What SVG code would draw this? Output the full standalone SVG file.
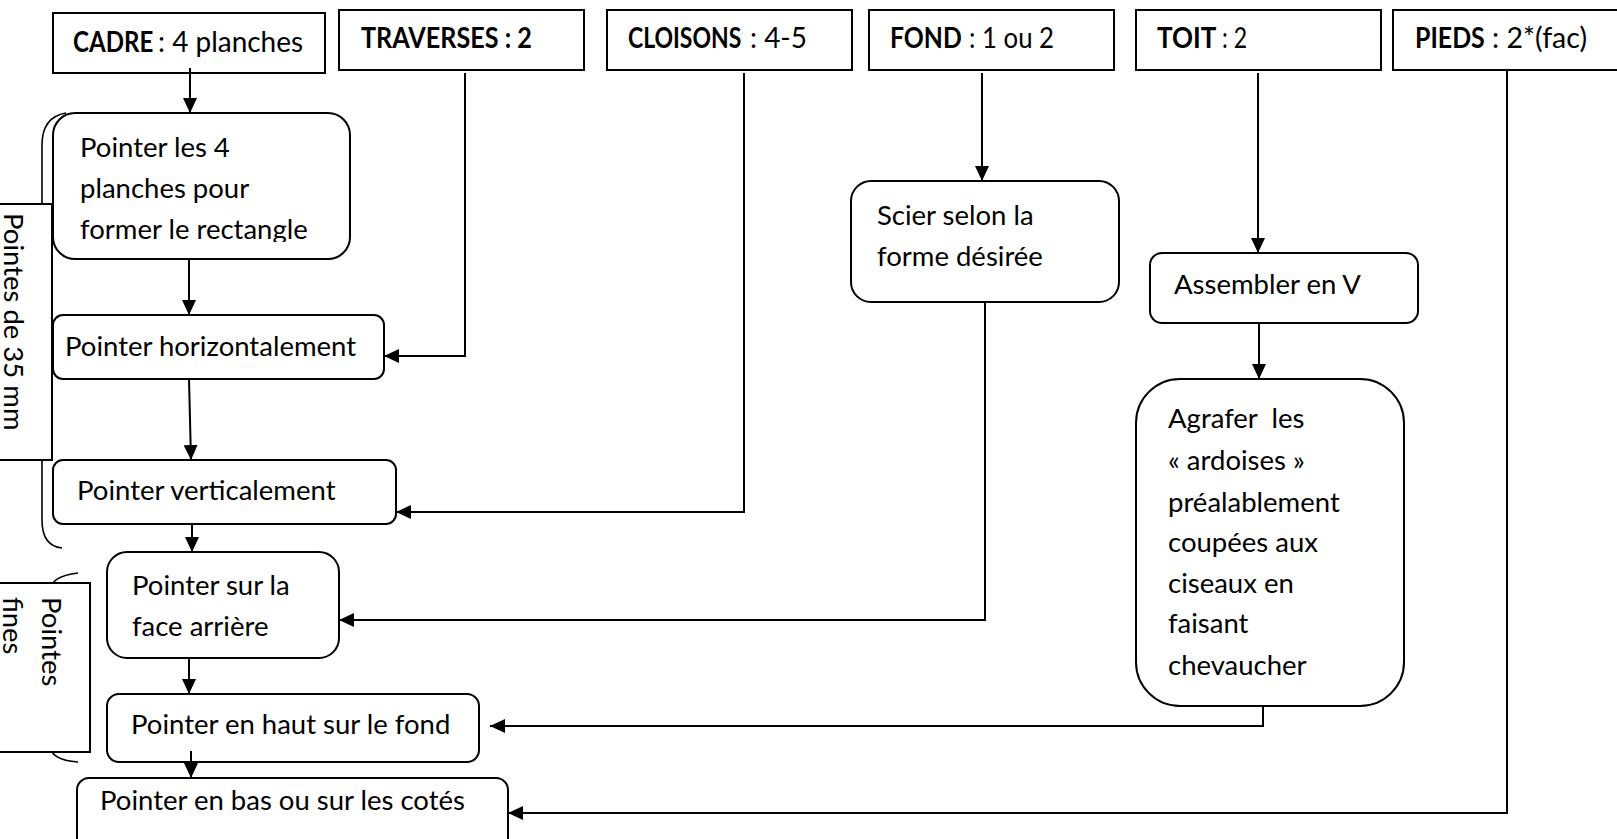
<svg xmlns="http://www.w3.org/2000/svg" width="1617" height="839" viewBox="0 0 1617 839">
<style>
.box{fill:#fff;stroke:#000;stroke-width:2}
.t{font-family:Lato,"Liberation Sans",sans-serif;font-size:27.5px;fill:#000}
.h{font-family:Lato,"Liberation Sans",sans-serif;font-size:28px;fill:#000}
.b{font-weight:bold}
.c{fill:none;stroke:#000;stroke-width:2}
.br{fill:none;stroke:#000;stroke-width:1.6}
</style>
<defs>
<marker id="ah" markerWidth="15" markerHeight="14" refX="15" refY="7" orient="auto" markerUnits="userSpaceOnUse"><path d="M0,0 L15,7 L0,14 z" fill="#000"/></marker>
<clipPath id="clip1"><rect x="53" y="113" width="297" height="129"/></clipPath>
</defs>
<rect width="1617" height="839" fill="#fff"/>

<g id="bracket-35mm">
<path class="br" d="M66,113 Q42,117 42,145 V520 Q42,546 62,548"/>
<rect class="box" x="-2" y="204" width="54" height="256"/>
<text class="t" transform="translate(4,213) rotate(90)">Pointes de 35 mm</text>
</g>
<g id="bracket-fines">
<path class="br" d="M78,573 Q50,576 50,592 V745 Q50,760 78,762"/>
<rect class="box" x="-2" y="583" width="92" height="169"/>
<text class="t" transform="translate(42,597) rotate(90)">Pointes</text>
<text class="t" transform="translate(3,597) rotate(90)">fines</text>
</g>

<g id="cadre"><rect class="box" x="53" y="13" width="272" height="60"/><text class="h b" transform="translate(73,52) scale(0.86,1)">CADRE</text><text class="h" x="158" y="52" textLength="145" lengthAdjust="spacingAndGlyphs">: 4 planches</text></g>
<g id="traverses"><rect class="box" x="339" y="10" width="245" height="60"/><text class="h b" transform="translate(361,48) scale(0.9,1)">TRAVERSES : 2</text></g>
<g id="cloisons"><rect class="box" x="607" y="10" width="245" height="60"/><text class="h b" transform="translate(628,48) scale(0.82,1)">CLOISONS</text><text class="h" x="750" y="48" textLength="57" lengthAdjust="spacingAndGlyphs">: 4-5</text></g>
<g id="fond"><rect class="box" x="869" y="10" width="245" height="60"/><text class="h b" transform="translate(890,48) scale(0.885,1)">FOND</text><text class="h" x="969" y="48" textLength="85" lengthAdjust="spacingAndGlyphs">: 1 ou 2</text></g>
<g id="toit"><rect class="box" x="1136" y="10" width="245" height="60"/><text class="h b" transform="translate(1157,48) scale(0.93,1)">TOIT</text><text class="h" x="1222" y="48" textLength="25" lengthAdjust="spacingAndGlyphs">: 2</text></g>
<g id="pieds"><rect class="box" x="1393" y="10" width="240" height="60"/><text class="h b" transform="translate(1415,48) scale(0.89,1)">PIEDS</text><text class="h" x="1492" y="48" textLength="95" lengthAdjust="spacingAndGlyphs">: 2*(fac)</text></g>

<g id="pointer-4">
<rect class="box" x="53" y="113" width="297" height="146" rx="22"/>
<g clip-path="url(#clip1)"><text class="t" x="80" y="157">Pointer les 4</text><text class="t" x="80" y="198">planches pour</text><text class="t" x="80" y="239">former le rectangle</text></g>
</g>
<g id="pointer-horiz"><rect class="box" x="53" y="315" width="331" height="64" rx="10"/><text class="t" x="65" y="356">Pointer horizontalement</text></g>
<g id="pointer-vert"><rect class="box" x="53" y="460" width="343" height="64" rx="10"/><text class="t" x="77" y="500">Pointer verticalement</text></g>
<g id="pointer-arriere"><rect class="box" x="107" y="552" width="232" height="106" rx="20"/><text class="t" x="132" y="595">Pointer sur la</text><text class="t" x="132" y="636">face arrière</text></g>
<g id="pointer-haut"><rect class="box" x="107" y="694" width="372" height="68" rx="12"/><text class="t" x="131" y="734">Pointer en haut sur le fond</text></g>
<g id="pointer-bas"><rect class="box" x="77" y="778" width="431" height="80" rx="12"/><text class="t" x="100" y="810">Pointer en bas ou sur les cotés</text></g>
<g id="scier"><rect class="box" x="851" y="181" width="268" height="121" rx="20"/><text class="t" x="877" y="225">Scier selon la</text><text class="t" x="877" y="266">forme désirée</text></g>
<g id="assembler"><rect class="box" x="1150" y="253" width="268" height="70" rx="12"/><text class="t" x="1174" y="294">Assembler en V</text></g>
<g id="agrafer"><rect class="box" x="1136" y="379" width="268" height="327" rx="44"/>
<text class="t" x="1168" y="428" xml:space="preserve">Agrafer  les</text>
<text class="t" x="1168" y="470">« ardoises »</text>
<text class="t" x="1168" y="512">préalablement</text>
<text class="t" x="1168" y="552">coupées aux</text>
<text class="t" x="1168" y="593">ciseaux en</text>
<text class="t" x="1168" y="633">faisant</text>
<text class="t" x="1168" y="675">chevaucher</text>
</g>

<g id="connectors">
<path class="c" d="M190,68 V113" marker-end="url(#ah)"/>
<path class="c" d="M189,259 V315" marker-end="url(#ah)"/>
<path class="c" d="M189,379 L191,460" marker-end="url(#ah)"/>
<path class="c" d="M192,524 V552" marker-end="url(#ah)"/>
<path class="c" d="M189,658 V694" marker-end="url(#ah)"/>
<path class="c" d="M191,751 V778" marker-end="url(#ah)"/>
<path class="c" d="M465,73 V356 H384" marker-end="url(#ah)"/>
<path class="c" d="M744,73 V512 H396" marker-end="url(#ah)"/>
<path class="c" d="M982,73 V181" marker-end="url(#ah)"/>
<path class="c" d="M985,302 V620 H339" marker-end="url(#ah)"/>
<path class="c" d="M1258,73 V253" marker-end="url(#ah)"/>
<path class="c" d="M1259,323 V379" marker-end="url(#ah)"/>
<path class="c" d="M1263,706 V726 H490" marker-end="url(#ah)"/>
<path class="c" d="M1507,70 V813 H508" marker-end="url(#ah)"/>
</g>
</svg>
